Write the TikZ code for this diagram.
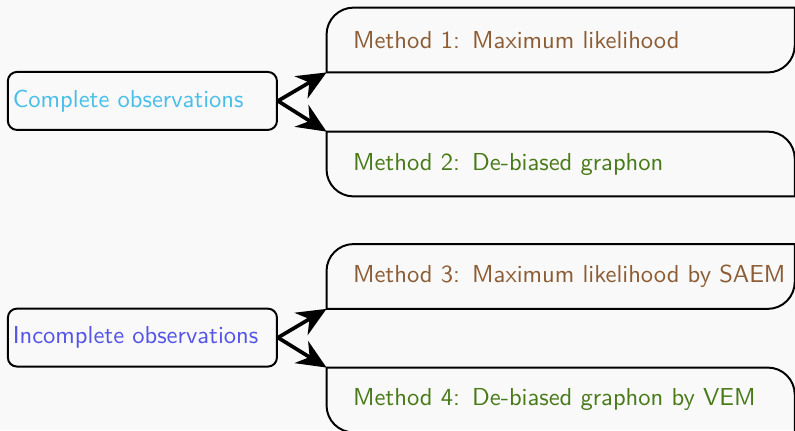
\documentclass[tikz,border=0pt]{standalone}
\usepackage{xcolor}
\usepackage{tikz}
\usetikzlibrary{arrows.meta}
\renewcommand{\familydefault}{\sfdefault}
\definecolor{bggray}{RGB}{249,249,249}
\definecolor{obscyan}{RGB}{72,190,232}
\definecolor{obsblue}{RGB}{84,84,232}
\definecolor{methbrown}{RGB}{140,92,52}
\definecolor{methgreen}{RGB}{72,122,24}
% frame with rounded top-left and bottom-right corners
\newcommand{\frameTLBR}[1]{\draw[line width=0.8pt] (#1.south west) -- ([yshift=-11pt]#1.north west)
  arc[start angle=180, end angle=90, radius=11pt] -- (#1.north east) -- ([yshift=11pt]#1.south east)
  arc[start angle=0, end angle=-90, radius=11pt] -- cycle;}
% frame with rounded bottom-left and top-right corners
\newcommand{\frameBLTR}[1]{\draw[line width=0.8pt] (#1.north west) -- ([yshift=11pt]#1.south west)
  arc[start angle=180, end angle=270, radius=11pt] -- (#1.south east) -- ([yshift=-11pt]#1.north east)
  arc[start angle=0, end angle=90, radius=11pt] -- cycle;}

\begin{document}
\begin{tikzpicture}[x=1pt, y=1pt,
  data/.style={draw, line width=0.8pt, rounded corners=3.7pt, minimum width=109.6pt, minimum height=23.6pt,
    inner xsep=2pt, text width=105.6pt, align=left},
  method/.style={minimum width=190.3pt, minimum height=26pt, inner xsep=10.6pt, text width=169.1pt, align=left},
  link/.style={-{Stealth[length=12pt, width=10.5pt]}, line width=1.5pt}]
\fill[bggray] (0,0) rectangle (323.8,-175.2);
\useasboundingbox (0,0) rectangle (323.8,-175.2);

\node[data, text=obscyan] (complete) at (58.0,-41.1) {Complete observations};
\node[data, text=obsblue] (incomplete) at (58.0,-137.5) {Incomplete observations};

\node[method, text=methbrown] (ml) at (228.35,-16.3) {Method 1: Maximum likelihood};
\node[method, text=methgreen] (debias) at (228.35,-66.8) {Method 2: De-biased graphon};
\node[method, text=methbrown] (saem) at (228.35,-112.6) {\mbox{Method 3: Maximum likelihood by SAEM}};
\node[method, text=methgreen] (vem) at (228.35,-162.9) {Method 4: De-biased graphon by VEM};

\frameTLBR{ml}
\frameBLTR{debias}
\frameTLBR{saem}
\frameBLTR{vem}

\draw[link] (complete.east) -- (ml.south west);
\draw[link] (complete.east) -- (debias.north west);
\draw[link] (incomplete.east) -- (saem.south west);
\draw[link] (incomplete.east) -- (vem.north west);
\end{tikzpicture}
\end{document}
